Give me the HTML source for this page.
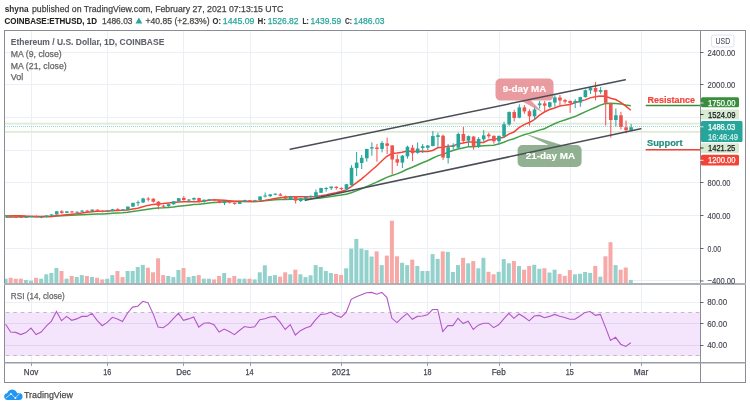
<!DOCTYPE html><html><head><meta charset="utf-8"><style>
*{margin:0;padding:0;box-sizing:border-box}
html,body{width:750px;height:408px;background:#fff;overflow:hidden}
body{position:relative;font-family:"Liberation Sans",sans-serif}
.t{position:absolute;white-space:nowrap;line-height:1}
svg{position:absolute;left:0;top:0}

</style></head><body>
<svg width="750" height="408" viewBox="0 0 750 408">
<g stroke="#eaf0f6" stroke-width="1">
<line x1="5" y1="52.5" x2="700" y2="52.5"/>
<line x1="5" y1="84.5" x2="700" y2="84.5"/>
<line x1="5" y1="117.5" x2="700" y2="117.5"/>
<line x1="5" y1="150.5" x2="700" y2="150.5"/>
<line x1="5" y1="182.5" x2="700" y2="182.5"/>
<line x1="5" y1="215.5" x2="700" y2="215.5"/>
<line x1="5" y1="248.5" x2="700" y2="248.5"/>
<line x1="5" y1="280.5" x2="700" y2="280.5"/>
<line x1="31.5" y1="31" x2="31.5" y2="362"/>
<line x1="107.5" y1="31" x2="107.5" y2="362"/>
<line x1="183.5" y1="31" x2="183.5" y2="362"/>
<line x1="250.5" y1="31" x2="250.5" y2="362"/>
<line x1="341.5" y1="31" x2="341.5" y2="362"/>
<line x1="427.5" y1="31" x2="427.5" y2="362"/>
<line x1="499.5" y1="31" x2="499.5" y2="362"/>
<line x1="570.5" y1="31" x2="570.5" y2="362"/>
<line x1="641.5" y1="31" x2="641.5" y2="362"/>
<line x1="5" y1="302.5" x2="700" y2="302.5"/>
</g>
<rect x="5" y="312.5" width="695" height="43.5" fill="#f4e5fc"/>
<g stroke="#bdbcc6" stroke-width="1" stroke-dasharray="3.5 4" stroke-dashoffset="-0.8"><line x1="5" y1="312.5" x2="700" y2="312.5"/><line x1="5" y1="355.5" x2="700" y2="355.5"/></g>
<line x1="5" y1="323.5" x2="700" y2="323.5" stroke="#e3d3f2" stroke-width="1"/>
<line x1="5" y1="345.5" x2="700" y2="345.5" stroke="#e3d3f2" stroke-width="1"/>
<line x1="5" y1="123.6" x2="700" y2="123.6" stroke="#dcebd5" stroke-width="1.7"/>
<line x1="5" y1="131.9" x2="700" y2="131.9" stroke="#dcebd5" stroke-width="1.7"/>
<line x1="5" y1="126.5" x2="700" y2="126.5" stroke="#26a69a" stroke-width="1" stroke-dasharray="1 1" opacity="0.45"/>
<g>
<rect x="5.00" y="278.70" width="2.58" height="4.80" fill="#93d2cc"/>
<rect x="8.67" y="277.80" width="4.00" height="5.70" fill="#f7a9a7"/>
<rect x="13.75" y="278.70" width="4.00" height="4.80" fill="#f7a9a7"/>
<rect x="18.83" y="278.70" width="4.00" height="4.80" fill="#f7a9a7"/>
<rect x="23.92" y="280.00" width="4.00" height="3.50" fill="#93d2cc"/>
<rect x="29.00" y="280.70" width="4.00" height="2.80" fill="#93d2cc"/>
<rect x="34.08" y="277.80" width="4.00" height="5.70" fill="#f7a9a7"/>
<rect x="39.17" y="278.70" width="4.00" height="4.80" fill="#93d2cc"/>
<rect x="44.25" y="274.30" width="4.00" height="9.20" fill="#93d2cc"/>
<rect x="49.33" y="273.00" width="4.00" height="10.50" fill="#93d2cc"/>
<rect x="54.42" y="268.00" width="4.00" height="15.50" fill="#93d2cc"/>
<rect x="59.50" y="271.00" width="4.00" height="12.50" fill="#f7a9a7"/>
<rect x="64.58" y="278.70" width="4.00" height="4.80" fill="#93d2cc"/>
<rect x="69.67" y="276.00" width="4.00" height="7.50" fill="#f7a9a7"/>
<rect x="74.75" y="277.00" width="4.00" height="6.50" fill="#93d2cc"/>
<rect x="79.83" y="275.10" width="4.00" height="8.40" fill="#93d2cc"/>
<rect x="84.92" y="276.00" width="4.00" height="7.50" fill="#f7a9a7"/>
<rect x="90.00" y="277.00" width="4.00" height="6.50" fill="#93d2cc"/>
<rect x="95.08" y="277.80" width="4.00" height="5.70" fill="#f7a9a7"/>
<rect x="100.17" y="279.40" width="4.00" height="4.10" fill="#f7a9a7"/>
<rect x="105.25" y="278.70" width="4.00" height="4.80" fill="#93d2cc"/>
<rect x="110.33" y="275.10" width="4.00" height="8.40" fill="#93d2cc"/>
<rect x="115.42" y="271.00" width="4.00" height="12.50" fill="#f7a9a7"/>
<rect x="120.50" y="277.10" width="4.00" height="6.40" fill="#f7a9a7"/>
<rect x="125.58" y="271.00" width="4.00" height="12.50" fill="#93d2cc"/>
<rect x="130.67" y="271.00" width="4.00" height="12.50" fill="#93d2cc"/>
<rect x="135.75" y="267.00" width="4.00" height="16.50" fill="#93d2cc"/>
<rect x="140.83" y="264.90" width="4.00" height="18.60" fill="#93d2cc"/>
<rect x="145.92" y="267.70" width="4.00" height="15.80" fill="#f7a9a7"/>
<rect x="151.00" y="272.30" width="4.00" height="11.20" fill="#f7a9a7"/>
<rect x="156.08" y="258.30" width="4.00" height="25.20" fill="#f7a9a7"/>
<rect x="161.17" y="275.10" width="4.00" height="8.40" fill="#f7a9a7"/>
<rect x="166.25" y="276.00" width="4.00" height="7.50" fill="#93d2cc"/>
<rect x="171.33" y="277.10" width="4.00" height="6.40" fill="#93d2cc"/>
<rect x="176.42" y="270.00" width="4.00" height="13.50" fill="#93d2cc"/>
<rect x="181.50" y="268.00" width="4.00" height="15.50" fill="#f7a9a7"/>
<rect x="186.58" y="277.10" width="4.00" height="6.40" fill="#93d2cc"/>
<rect x="191.67" y="276.00" width="4.00" height="7.50" fill="#93d2cc"/>
<rect x="196.75" y="275.10" width="4.00" height="8.40" fill="#f7a9a7"/>
<rect x="201.83" y="278.70" width="4.00" height="4.80" fill="#93d2cc"/>
<rect x="206.92" y="278.70" width="4.00" height="4.80" fill="#93d2cc"/>
<rect x="212.00" y="279.40" width="4.00" height="4.10" fill="#f7a9a7"/>
<rect x="217.08" y="276.00" width="4.00" height="7.50" fill="#f7a9a7"/>
<rect x="222.17" y="273.00" width="4.00" height="10.50" fill="#93d2cc"/>
<rect x="227.25" y="277.90" width="4.00" height="5.60" fill="#f7a9a7"/>
<rect x="232.33" y="276.00" width="4.00" height="7.50" fill="#f7a9a7"/>
<rect x="237.42" y="278.70" width="4.00" height="4.80" fill="#93d2cc"/>
<rect x="242.50" y="278.70" width="4.00" height="4.80" fill="#93d2cc"/>
<rect x="247.58" y="278.70" width="4.00" height="4.80" fill="#f7a9a7"/>
<rect x="252.67" y="279.40" width="4.00" height="4.10" fill="#93d2cc"/>
<rect x="257.75" y="272.30" width="4.00" height="11.20" fill="#93d2cc"/>
<rect x="262.83" y="265.30" width="4.00" height="18.20" fill="#93d2cc"/>
<rect x="267.92" y="276.00" width="4.00" height="7.50" fill="#93d2cc"/>
<rect x="273.00" y="275.10" width="4.00" height="8.40" fill="#93d2cc"/>
<rect x="278.08" y="276.60" width="4.00" height="6.90" fill="#f7a9a7"/>
<rect x="283.17" y="272.30" width="4.00" height="11.20" fill="#f7a9a7"/>
<rect x="288.25" y="274.30" width="4.00" height="9.20" fill="#93d2cc"/>
<rect x="293.33" y="269.70" width="4.00" height="13.80" fill="#f7a9a7"/>
<rect x="298.41" y="274.30" width="4.00" height="9.20" fill="#93d2cc"/>
<rect x="303.50" y="277.10" width="4.00" height="6.40" fill="#93d2cc"/>
<rect x="308.58" y="275.30" width="4.00" height="8.20" fill="#93d2cc"/>
<rect x="313.66" y="265.10" width="4.00" height="18.40" fill="#93d2cc"/>
<rect x="318.75" y="267.00" width="4.00" height="16.50" fill="#93d2cc"/>
<rect x="323.83" y="271.00" width="4.00" height="12.50" fill="#93d2cc"/>
<rect x="328.91" y="273.00" width="4.00" height="10.50" fill="#93d2cc"/>
<rect x="334.00" y="274.00" width="4.00" height="9.50" fill="#f7a9a7"/>
<rect x="339.08" y="274.90" width="4.00" height="8.60" fill="#f7a9a7"/>
<rect x="344.16" y="268.30" width="4.00" height="15.20" fill="#93d2cc"/>
<rect x="349.25" y="248.60" width="4.00" height="34.90" fill="#93d2cc"/>
<rect x="354.33" y="238.90" width="4.00" height="44.60" fill="#93d2cc"/>
<rect x="359.41" y="248.60" width="4.00" height="34.90" fill="#93d2cc"/>
<rect x="364.50" y="250.10" width="4.00" height="33.40" fill="#93d2cc"/>
<rect x="369.58" y="256.50" width="4.00" height="27.00" fill="#93d2cc"/>
<rect x="374.66" y="251.40" width="4.00" height="32.10" fill="#f7a9a7"/>
<rect x="379.75" y="265.10" width="4.00" height="18.40" fill="#93d2cc"/>
<rect x="384.83" y="255.60" width="4.00" height="27.90" fill="#f7a9a7"/>
<rect x="389.91" y="220.70" width="4.00" height="62.80" fill="#f7a9a7"/>
<rect x="395.00" y="256.30" width="4.00" height="27.20" fill="#f7a9a7"/>
<rect x="400.08" y="262.80" width="4.00" height="20.70" fill="#93d2cc"/>
<rect x="405.16" y="265.10" width="4.00" height="18.40" fill="#93d2cc"/>
<rect x="410.25" y="259.60" width="4.00" height="23.90" fill="#f7a9a7"/>
<rect x="415.33" y="266.00" width="4.00" height="17.50" fill="#93d2cc"/>
<rect x="420.41" y="271.00" width="4.00" height="12.50" fill="#93d2cc"/>
<rect x="425.50" y="271.00" width="4.00" height="12.50" fill="#93d2cc"/>
<rect x="430.58" y="254.10" width="4.00" height="29.40" fill="#93d2cc"/>
<rect x="435.66" y="258.90" width="4.00" height="24.60" fill="#93d2cc"/>
<rect x="440.75" y="251.40" width="4.00" height="32.10" fill="#f7a9a7"/>
<rect x="445.83" y="251.90" width="4.00" height="31.60" fill="#93d2cc"/>
<rect x="450.91" y="272.00" width="4.00" height="11.50" fill="#93d2cc"/>
<rect x="456.00" y="265.10" width="4.00" height="18.40" fill="#93d2cc"/>
<rect x="461.08" y="257.80" width="4.00" height="25.70" fill="#f7a9a7"/>
<rect x="466.16" y="263.30" width="4.00" height="20.20" fill="#93d2cc"/>
<rect x="471.25" y="261.10" width="4.00" height="22.40" fill="#f7a9a7"/>
<rect x="476.33" y="268.30" width="4.00" height="15.20" fill="#93d2cc"/>
<rect x="481.41" y="257.80" width="4.00" height="25.70" fill="#93d2cc"/>
<rect x="486.50" y="271.80" width="4.00" height="11.70" fill="#f7a9a7"/>
<rect x="491.58" y="274.30" width="4.00" height="9.20" fill="#f7a9a7"/>
<rect x="496.66" y="271.80" width="4.00" height="11.70" fill="#93d2cc"/>
<rect x="501.75" y="259.10" width="4.00" height="24.40" fill="#93d2cc"/>
<rect x="506.83" y="263.30" width="4.00" height="20.20" fill="#93d2cc"/>
<rect x="511.91" y="261.10" width="4.00" height="22.40" fill="#f7a9a7"/>
<rect x="517.00" y="266.00" width="4.00" height="17.50" fill="#93d2cc"/>
<rect x="522.08" y="269.70" width="4.00" height="13.80" fill="#f7a9a7"/>
<rect x="527.16" y="266.00" width="4.00" height="17.50" fill="#f7a9a7"/>
<rect x="532.25" y="264.80" width="4.00" height="18.70" fill="#93d2cc"/>
<rect x="537.33" y="268.80" width="4.00" height="14.70" fill="#93d2cc"/>
<rect x="542.41" y="268.30" width="4.00" height="15.20" fill="#f7a9a7"/>
<rect x="547.50" y="272.50" width="4.00" height="11.00" fill="#93d2cc"/>
<rect x="552.58" y="269.70" width="4.00" height="13.80" fill="#93d2cc"/>
<rect x="557.66" y="274.00" width="4.00" height="9.50" fill="#f7a9a7"/>
<rect x="562.75" y="275.80" width="4.00" height="7.70" fill="#f7a9a7"/>
<rect x="567.83" y="270.10" width="4.00" height="13.40" fill="#f7a9a7"/>
<rect x="572.91" y="274.30" width="4.00" height="9.20" fill="#93d2cc"/>
<rect x="578.00" y="273.80" width="4.00" height="9.70" fill="#93d2cc"/>
<rect x="583.08" y="272.00" width="4.00" height="11.50" fill="#93d2cc"/>
<rect x="588.16" y="272.90" width="4.00" height="10.60" fill="#93d2cc"/>
<rect x="593.25" y="266.00" width="4.00" height="17.50" fill="#f7a9a7"/>
<rect x="598.33" y="276.70" width="4.00" height="6.80" fill="#93d2cc"/>
<rect x="603.41" y="256.30" width="4.00" height="27.20" fill="#f7a9a7"/>
<rect x="608.50" y="242.20" width="4.00" height="41.30" fill="#f7a9a7"/>
<rect x="613.58" y="265.10" width="4.00" height="18.40" fill="#93d2cc"/>
<rect x="618.66" y="269.70" width="4.00" height="13.80" fill="#f7a9a7"/>
<rect x="623.75" y="267.50" width="4.00" height="16.00" fill="#f7a9a7"/>
<rect x="628.83" y="279.90" width="4.00" height="3.60" fill="#93d2cc"/>
</g>
<polyline points="5.58,217.21 10.67,217.03 15.75,216.89 20.83,216.83 25.92,216.77 31.00,216.69 36.08,216.70 41.17,216.67 46.25,216.59 51.33,216.44 56.42,216.10 61.50,215.84 66.58,215.55 71.67,215.29 76.75,214.98 81.83,214.71 86.92,214.54 92.00,214.28 97.08,214.09 102.17,213.92 107.25,213.66 112.33,213.37 117.42,213.05 122.50,212.69 127.58,212.19 132.67,211.52 137.75,210.86 142.83,209.98 147.92,209.14 153.00,208.48 158.08,208.06 163.17,207.81 168.25,207.40 173.33,206.91 178.42,206.25 183.50,205.69 188.58,205.16 193.67,204.55 198.75,204.17 203.83,203.65 208.92,203.05 214.00,202.54 219.08,202.25 224.17,201.86 229.25,201.54 234.33,201.41 239.42,201.37 244.50,201.28 249.58,201.38 254.67,201.43 259.75,201.19 264.83,200.70 269.92,200.14 275.00,199.65 280.08,199.38 285.17,199.41 290.25,199.23 295.33,199.28 300.41,199.28 305.50,199.06 310.58,198.87 315.66,198.53 320.75,197.96 325.83,197.24 330.91,196.53 336.00,195.83 341.08,195.11 346.16,194.26 351.25,192.72 356.33,190.91 361.41,188.88 366.50,186.62 371.58,184.32 376.66,182.16 381.75,179.74 386.83,177.36 391.91,175.49 397.00,173.89 402.08,171.75 407.16,169.30 412.25,167.22 417.33,164.97 422.41,162.78 427.50,160.76 432.58,158.28 437.66,155.84 442.75,154.38 447.83,152.40 452.91,150.53 458.00,148.92 463.08,147.89 468.16,146.86 473.25,146.75 478.33,146.35 483.41,145.71 488.50,145.39 493.58,145.18 498.66,144.05 503.75,142.22 508.83,140.14 513.91,138.77 519.00,136.58 524.08,134.82 529.16,133.39 534.25,131.68 539.33,130.12 544.41,128.72 549.50,126.09 554.58,123.72 559.66,121.60 564.75,120.06 569.83,118.25 574.91,116.58 580.00,114.22 585.08,111.90 590.16,109.64 595.25,107.52 600.33,105.08 605.41,103.51 610.50,103.31 615.58,103.46 620.66,103.89 625.75,104.97 630.83,105.73" fill="none" stroke="#43a047" stroke-width="1.5"/>
<polyline points="5.58,215.93 10.67,215.85 15.75,215.69 20.83,215.77 25.92,216.02 31.00,216.14 36.08,216.39 41.17,216.56 46.25,216.49 51.33,216.39 56.42,215.79 61.50,215.34 66.58,214.71 71.67,214.19 76.75,213.71 81.83,212.99 86.92,212.36 92.00,211.69 97.08,211.27 102.17,211.33 107.25,211.10 112.33,210.86 117.42,210.61 122.50,210.35 127.58,209.90 132.67,208.99 137.75,208.17 142.83,206.80 147.92,205.40 153.00,204.38 158.08,203.99 163.17,203.57 168.25,202.99 173.33,202.40 178.42,201.89 183.50,201.64 188.58,201.77 193.67,201.64 198.75,201.64 203.83,200.98 208.92,200.23 214.00,199.78 219.08,199.98 224.17,200.36 229.25,200.65 234.33,201.13 239.42,201.58 244.50,201.42 249.58,201.51 254.67,201.61 259.75,201.22 264.83,200.37 269.92,199.57 275.00,198.57 280.08,197.67 285.17,197.31 290.25,196.85 295.33,196.86 300.41,196.63 305.50,196.68 310.58,196.72 315.66,196.47 320.75,195.84 325.83,194.98 330.91,193.63 336.00,192.73 341.08,191.41 346.16,189.87 351.25,186.62 356.33,182.92 361.41,179.10 366.50,174.76 371.58,170.23 376.66,166.04 381.75,161.03 386.83,156.25 391.91,153.50 397.00,152.93 402.08,152.16 407.16,150.94 412.25,151.42 417.33,151.56 422.41,151.26 427.50,151.55 432.58,150.47 437.66,147.77 442.75,147.20 447.83,146.26 452.91,146.06 458.00,143.92 463.08,143.08 468.16,141.95 473.25,142.08 478.33,142.39 483.41,142.41 488.50,140.06 493.58,139.40 498.66,138.37 503.75,137.29 508.83,134.07 513.91,132.06 519.00,127.69 524.08,124.64 529.16,122.53 534.25,119.55 539.33,115.34 544.41,112.00 549.50,109.56 554.58,107.94 559.66,106.00 564.75,105.36 569.83,104.42 574.91,102.71 580.00,101.34 585.08,99.87 590.16,97.89 595.25,96.73 600.33,95.92 605.41,96.17 610.50,98.21 615.58,99.57 620.66,102.45 625.75,106.13 630.83,110.24" fill="none" stroke="#f44336" stroke-width="1.5"/>
<line x1="5.88" y1="214.98" x2="5.88" y2="216.45" stroke="#26a69a" stroke-width="1"/>
<rect x="4.08" y="215.39" width="3.6" height="1.00" fill="#26a69a"/>
<line x1="10.97" y1="215.23" x2="10.97" y2="217.59" stroke="#ef5350" stroke-width="1"/>
<rect x="9.17" y="215.39" width="3.6" height="1.30" fill="#ef5350"/>
<line x1="16.05" y1="216.20" x2="16.05" y2="218.00" stroke="#ef5350" stroke-width="1"/>
<rect x="14.25" y="216.69" width="3.6" height="1.00" fill="#ef5350"/>
<line x1="21.13" y1="216.69" x2="21.13" y2="218.08" stroke="#ef5350" stroke-width="1"/>
<rect x="19.33" y="216.86" width="3.6" height="1.00" fill="#ef5350"/>
<line x1="26.22" y1="216.20" x2="26.22" y2="217.51" stroke="#26a69a" stroke-width="1"/>
<rect x="24.42" y="216.86" width="3.6" height="1.00" fill="#26a69a"/>
<line x1="31.30" y1="216.04" x2="31.30" y2="217.02" stroke="#26a69a" stroke-width="1"/>
<rect x="29.50" y="216.04" width="3.6" height="1.00" fill="#26a69a"/>
<line x1="36.38" y1="215.31" x2="36.38" y2="217.59" stroke="#ef5350" stroke-width="1"/>
<rect x="34.58" y="216.04" width="3.6" height="1.06" fill="#ef5350"/>
<line x1="41.47" y1="216.61" x2="41.47" y2="218.16" stroke="#26a69a" stroke-width="1"/>
<rect x="39.67" y="216.69" width="3.6" height="1.00" fill="#26a69a"/>
<line x1="46.55" y1="215.15" x2="46.55" y2="217.67" stroke="#26a69a" stroke-width="1"/>
<rect x="44.75" y="215.63" width="3.6" height="1.06" fill="#26a69a"/>
<line x1="51.63" y1="214.09" x2="51.63" y2="215.96" stroke="#26a69a" stroke-width="1"/>
<rect x="49.83" y="214.49" width="3.6" height="1.14" fill="#26a69a"/>
<line x1="56.72" y1="211.07" x2="56.72" y2="214.66" stroke="#26a69a" stroke-width="1"/>
<rect x="54.92" y="211.32" width="3.6" height="3.18" fill="#26a69a"/>
<line x1="61.80" y1="210.18" x2="61.80" y2="213.84" stroke="#ef5350" stroke-width="1"/>
<rect x="60.00" y="211.32" width="3.6" height="1.55" fill="#ef5350"/>
<line x1="66.88" y1="211.07" x2="66.88" y2="213.27" stroke="#26a69a" stroke-width="1"/>
<rect x="65.08" y="211.40" width="3.6" height="1.47" fill="#26a69a"/>
<line x1="71.97" y1="210.91" x2="71.97" y2="213.11" stroke="#ef5350" stroke-width="1"/>
<rect x="70.17" y="211.40" width="3.6" height="1.00" fill="#ef5350"/>
<line x1="77.05" y1="211.48" x2="77.05" y2="212.62" stroke="#26a69a" stroke-width="1"/>
<rect x="75.25" y="211.72" width="3.6" height="1.00" fill="#26a69a"/>
<line x1="82.13" y1="209.85" x2="82.13" y2="211.81" stroke="#26a69a" stroke-width="1"/>
<rect x="80.33" y="210.67" width="3.6" height="1.06" fill="#26a69a"/>
<line x1="87.22" y1="209.93" x2="87.22" y2="211.40" stroke="#ef5350" stroke-width="1"/>
<rect x="85.42" y="210.67" width="3.6" height="1.00" fill="#ef5350"/>
<line x1="92.30" y1="209.36" x2="92.30" y2="211.24" stroke="#26a69a" stroke-width="1"/>
<rect x="90.50" y="209.61" width="3.6" height="1.38" fill="#26a69a"/>
<line x1="97.38" y1="209.61" x2="97.38" y2="211.48" stroke="#ef5350" stroke-width="1"/>
<rect x="95.58" y="209.61" width="3.6" height="1.14" fill="#ef5350"/>
<line x1="102.47" y1="210.50" x2="102.47" y2="212.46" stroke="#ef5350" stroke-width="1"/>
<rect x="100.67" y="210.75" width="3.6" height="1.06" fill="#ef5350"/>
<line x1="107.55" y1="210.42" x2="107.55" y2="212.21" stroke="#26a69a" stroke-width="1"/>
<rect x="105.75" y="210.83" width="3.6" height="1.00" fill="#26a69a"/>
<line x1="112.63" y1="208.87" x2="112.63" y2="211.24" stroke="#26a69a" stroke-width="1"/>
<rect x="110.83" y="209.20" width="3.6" height="1.63" fill="#26a69a"/>
<line x1="117.72" y1="208.22" x2="117.72" y2="210.58" stroke="#ef5350" stroke-width="1"/>
<rect x="115.92" y="209.20" width="3.6" height="1.00" fill="#ef5350"/>
<line x1="122.80" y1="209.12" x2="122.80" y2="211.07" stroke="#26a69a" stroke-width="1"/>
<rect x="121.00" y="209.36" width="3.6" height="1.00" fill="#26a69a"/>
<line x1="127.88" y1="206.59" x2="127.88" y2="210.10" stroke="#26a69a" stroke-width="1"/>
<rect x="126.08" y="206.59" width="3.6" height="3.34" fill="#26a69a"/>
<line x1="132.97" y1="202.68" x2="132.97" y2="207.16" stroke="#26a69a" stroke-width="1"/>
<rect x="131.17" y="202.85" width="3.6" height="3.75" fill="#26a69a"/>
<line x1="138.05" y1="200.48" x2="138.05" y2="206.02" stroke="#26a69a" stroke-width="1"/>
<rect x="136.25" y="202.19" width="3.6" height="1.00" fill="#26a69a"/>
<line x1="143.13" y1="197.79" x2="143.13" y2="203.09" stroke="#26a69a" stroke-width="1"/>
<rect x="141.33" y="198.45" width="3.6" height="3.99" fill="#26a69a"/>
<line x1="148.22" y1="196.98" x2="148.22" y2="201.46" stroke="#ef5350" stroke-width="1"/>
<rect x="146.42" y="198.61" width="3.6" height="1.00" fill="#ef5350"/>
<line x1="153.30" y1="198.20" x2="153.30" y2="202.68" stroke="#ef5350" stroke-width="1"/>
<rect x="151.50" y="198.69" width="3.6" height="3.01" fill="#ef5350"/>
<line x1="158.38" y1="201.05" x2="158.38" y2="209.36" stroke="#ef5350" stroke-width="1"/>
<rect x="156.58" y="201.70" width="3.6" height="3.99" fill="#ef5350"/>
<line x1="163.47" y1="204.72" x2="163.47" y2="207.98" stroke="#ef5350" stroke-width="1"/>
<rect x="161.67" y="205.70" width="3.6" height="1.00" fill="#ef5350"/>
<line x1="168.55" y1="203.90" x2="168.55" y2="206.76" stroke="#26a69a" stroke-width="1"/>
<rect x="166.75" y="204.15" width="3.6" height="1.96" fill="#26a69a"/>
<line x1="173.63" y1="201.05" x2="173.63" y2="204.72" stroke="#26a69a" stroke-width="1"/>
<rect x="171.83" y="201.30" width="3.6" height="3.01" fill="#26a69a"/>
<line x1="178.72" y1="197.96" x2="178.72" y2="201.70" stroke="#26a69a" stroke-width="1"/>
<rect x="176.92" y="198.20" width="3.6" height="3.10" fill="#26a69a"/>
<line x1="183.80" y1="196.17" x2="183.80" y2="200.65" stroke="#ef5350" stroke-width="1"/>
<rect x="182.00" y="197.88" width="3.6" height="2.12" fill="#ef5350"/>
<line x1="188.88" y1="199.02" x2="188.88" y2="201.87" stroke="#26a69a" stroke-width="1"/>
<rect x="187.08" y="199.59" width="3.6" height="1.00" fill="#26a69a"/>
<line x1="193.97" y1="197.39" x2="193.97" y2="200.65" stroke="#26a69a" stroke-width="1"/>
<rect x="192.17" y="198.04" width="3.6" height="1.55" fill="#26a69a"/>
<line x1="199.05" y1="197.79" x2="199.05" y2="202.28" stroke="#ef5350" stroke-width="1"/>
<rect x="197.25" y="198.04" width="3.6" height="3.67" fill="#ef5350"/>
<line x1="204.13" y1="199.42" x2="204.13" y2="202.68" stroke="#26a69a" stroke-width="1"/>
<rect x="202.33" y="199.75" width="3.6" height="1.96" fill="#26a69a"/>
<line x1="209.22" y1="198.85" x2="209.22" y2="201.05" stroke="#26a69a" stroke-width="1"/>
<rect x="207.42" y="199.34" width="3.6" height="1.00" fill="#26a69a"/>
<line x1="214.30" y1="199.02" x2="214.30" y2="201.05" stroke="#ef5350" stroke-width="1"/>
<rect x="212.50" y="199.34" width="3.6" height="1.00" fill="#ef5350"/>
<line x1="219.38" y1="199.75" x2="219.38" y2="203.09" stroke="#ef5350" stroke-width="1"/>
<rect x="217.58" y="200.08" width="3.6" height="3.01" fill="#ef5350"/>
<line x1="224.47" y1="201.30" x2="224.47" y2="205.13" stroke="#26a69a" stroke-width="1"/>
<rect x="222.67" y="201.62" width="3.6" height="1.47" fill="#26a69a"/>
<line x1="229.55" y1="201.30" x2="229.55" y2="203.50" stroke="#ef5350" stroke-width="1"/>
<rect x="227.75" y="201.62" width="3.6" height="1.06" fill="#ef5350"/>
<line x1="234.63" y1="202.60" x2="234.63" y2="204.72" stroke="#ef5350" stroke-width="1"/>
<rect x="232.83" y="202.68" width="3.6" height="1.22" fill="#ef5350"/>
<line x1="239.72" y1="201.70" x2="239.72" y2="203.90" stroke="#26a69a" stroke-width="1"/>
<rect x="237.92" y="202.03" width="3.6" height="1.87" fill="#26a69a"/>
<line x1="244.80" y1="199.67" x2="244.80" y2="202.28" stroke="#26a69a" stroke-width="1"/>
<rect x="243.00" y="200.24" width="3.6" height="1.79" fill="#26a69a"/>
<line x1="249.88" y1="200.08" x2="249.88" y2="201.30" stroke="#ef5350" stroke-width="1"/>
<rect x="248.08" y="200.24" width="3.6" height="1.00" fill="#ef5350"/>
<line x1="254.97" y1="199.83" x2="254.97" y2="201.46" stroke="#26a69a" stroke-width="1"/>
<rect x="253.17" y="200.32" width="3.6" height="1.00" fill="#26a69a"/>
<line x1="260.05" y1="196.17" x2="260.05" y2="200.89" stroke="#26a69a" stroke-width="1"/>
<rect x="258.25" y="196.49" width="3.6" height="3.83" fill="#26a69a"/>
<line x1="265.13" y1="192.50" x2="265.13" y2="197.55" stroke="#26a69a" stroke-width="1"/>
<rect x="263.33" y="195.51" width="3.6" height="1.00" fill="#26a69a"/>
<line x1="270.22" y1="194.13" x2="270.22" y2="196.98" stroke="#26a69a" stroke-width="1"/>
<rect x="268.42" y="194.37" width="3.6" height="1.79" fill="#26a69a"/>
<line x1="275.30" y1="193.31" x2="275.30" y2="195.35" stroke="#26a69a" stroke-width="1"/>
<rect x="273.50" y="193.72" width="3.6" height="1.00" fill="#26a69a"/>
<line x1="280.38" y1="193.15" x2="280.38" y2="196.17" stroke="#ef5350" stroke-width="1"/>
<rect x="278.58" y="194.37" width="3.6" height="1.38" fill="#ef5350"/>
<line x1="285.47" y1="195.51" x2="285.47" y2="199.42" stroke="#ef5350" stroke-width="1"/>
<rect x="283.67" y="196.17" width="3.6" height="2.61" fill="#ef5350"/>
<line x1="290.55" y1="195.76" x2="290.55" y2="199.59" stroke="#26a69a" stroke-width="1"/>
<rect x="288.75" y="196.17" width="3.6" height="3.26" fill="#26a69a"/>
<line x1="295.63" y1="196.17" x2="295.63" y2="203.50" stroke="#ef5350" stroke-width="1"/>
<rect x="293.83" y="196.74" width="3.6" height="3.91" fill="#ef5350"/>
<line x1="300.71" y1="197.96" x2="300.71" y2="202.03" stroke="#26a69a" stroke-width="1"/>
<rect x="298.91" y="198.20" width="3.6" height="2.85" fill="#26a69a"/>
<line x1="305.80" y1="196.82" x2="305.80" y2="199.83" stroke="#26a69a" stroke-width="1"/>
<rect x="304.00" y="196.98" width="3.6" height="1.79" fill="#26a69a"/>
<line x1="310.88" y1="195.51" x2="310.88" y2="197.79" stroke="#26a69a" stroke-width="1"/>
<rect x="309.08" y="195.84" width="3.6" height="1.14" fill="#26a69a"/>
<line x1="315.96" y1="189.65" x2="315.96" y2="197.39" stroke="#26a69a" stroke-width="1"/>
<rect x="314.16" y="192.17" width="3.6" height="4.81" fill="#26a69a"/>
<line x1="321.05" y1="187.78" x2="321.05" y2="192.83" stroke="#26a69a" stroke-width="1"/>
<rect x="319.25" y="188.02" width="3.6" height="4.81" fill="#26a69a"/>
<line x1="326.13" y1="187.21" x2="326.13" y2="191.60" stroke="#26a69a" stroke-width="1"/>
<rect x="324.33" y="188.02" width="3.6" height="1.00" fill="#26a69a"/>
<line x1="331.21" y1="186.39" x2="331.21" y2="190.06" stroke="#26a69a" stroke-width="1"/>
<rect x="329.41" y="186.63" width="3.6" height="1.55" fill="#26a69a"/>
<line x1="336.30" y1="186.23" x2="336.30" y2="189.65" stroke="#ef5350" stroke-width="1"/>
<rect x="334.50" y="186.80" width="3.6" height="1.22" fill="#ef5350"/>
<line x1="341.38" y1="187.29" x2="341.38" y2="190.14" stroke="#ef5350" stroke-width="1"/>
<rect x="339.58" y="188.02" width="3.6" height="1.00" fill="#ef5350"/>
<line x1="346.46" y1="183.95" x2="346.46" y2="190.06" stroke="#26a69a" stroke-width="1"/>
<rect x="344.66" y="184.27" width="3.6" height="4.89" fill="#26a69a"/>
<line x1="351.55" y1="165.21" x2="351.55" y2="185.58" stroke="#26a69a" stroke-width="1"/>
<rect x="349.75" y="167.74" width="3.6" height="17.43" fill="#26a69a"/>
<line x1="356.63" y1="152.01" x2="356.63" y2="176.21" stroke="#26a69a" stroke-width="1"/>
<rect x="354.83" y="162.60" width="3.6" height="5.46" fill="#26a69a"/>
<line x1="361.71" y1="154.95" x2="361.71" y2="169.12" stroke="#26a69a" stroke-width="1"/>
<rect x="359.91" y="157.80" width="3.6" height="5.21" fill="#26a69a"/>
<line x1="366.80" y1="148.92" x2="366.80" y2="161.71" stroke="#26a69a" stroke-width="1"/>
<rect x="365.00" y="148.92" width="3.6" height="9.37" fill="#26a69a"/>
<line x1="371.88" y1="142.32" x2="371.88" y2="155.68" stroke="#26a69a" stroke-width="1"/>
<rect x="370.08" y="147.21" width="3.6" height="1.30" fill="#26a69a"/>
<line x1="376.96" y1="144.03" x2="376.96" y2="161.71" stroke="#ef5350" stroke-width="1"/>
<rect x="375.16" y="147.53" width="3.6" height="1.47" fill="#ef5350"/>
<line x1="382.05" y1="141.10" x2="382.05" y2="152.34" stroke="#26a69a" stroke-width="1"/>
<rect x="380.25" y="142.89" width="3.6" height="6.03" fill="#26a69a"/>
<line x1="387.13" y1="137.68" x2="387.13" y2="153.97" stroke="#ef5350" stroke-width="1"/>
<rect x="385.33" y="143.38" width="3.6" height="2.44" fill="#ef5350"/>
<line x1="392.21" y1="145.25" x2="392.21" y2="174.33" stroke="#ef5350" stroke-width="1"/>
<rect x="390.41" y="145.42" width="3.6" height="14.09" fill="#ef5350"/>
<line x1="397.30" y1="154.62" x2="397.30" y2="166.03" stroke="#ef5350" stroke-width="1"/>
<rect x="395.50" y="159.18" width="3.6" height="3.42" fill="#ef5350"/>
<line x1="402.38" y1="155.03" x2="402.38" y2="168.06" stroke="#26a69a" stroke-width="1"/>
<rect x="400.58" y="155.68" width="3.6" height="6.92" fill="#26a69a"/>
<line x1="407.46" y1="145.66" x2="407.46" y2="158.69" stroke="#26a69a" stroke-width="1"/>
<rect x="405.66" y="146.80" width="3.6" height="9.53" fill="#26a69a"/>
<line x1="412.55" y1="144.85" x2="412.55" y2="161.14" stroke="#ef5350" stroke-width="1"/>
<rect x="410.75" y="147.70" width="3.6" height="5.54" fill="#ef5350"/>
<line x1="417.63" y1="142.40" x2="417.63" y2="153.81" stroke="#26a69a" stroke-width="1"/>
<rect x="415.83" y="148.51" width="3.6" height="4.32" fill="#26a69a"/>
<line x1="422.71" y1="144.03" x2="422.71" y2="152.99" stroke="#26a69a" stroke-width="1"/>
<rect x="420.91" y="146.31" width="3.6" height="1.71" fill="#26a69a"/>
<line x1="427.80" y1="145.01" x2="427.80" y2="150.55" stroke="#26a69a" stroke-width="1"/>
<rect x="426.00" y="145.50" width="3.6" height="2.20" fill="#26a69a"/>
<line x1="432.88" y1="131.00" x2="432.88" y2="146.48" stroke="#26a69a" stroke-width="1"/>
<rect x="431.08" y="136.05" width="3.6" height="9.94" fill="#26a69a"/>
<line x1="437.96" y1="132.63" x2="437.96" y2="147.29" stroke="#26a69a" stroke-width="1"/>
<rect x="436.16" y="135.23" width="3.6" height="1.71" fill="#26a69a"/>
<line x1="443.05" y1="134.66" x2="443.05" y2="159.92" stroke="#ef5350" stroke-width="1"/>
<rect x="441.25" y="135.72" width="3.6" height="21.75" fill="#ef5350"/>
<line x1="448.13" y1="144.03" x2="448.13" y2="163.58" stroke="#26a69a" stroke-width="1"/>
<rect x="446.33" y="147.21" width="3.6" height="10.83" fill="#26a69a"/>
<line x1="453.21" y1="143.22" x2="453.21" y2="149.73" stroke="#26a69a" stroke-width="1"/>
<rect x="451.41" y="145.01" width="3.6" height="1.71" fill="#26a69a"/>
<line x1="458.30" y1="132.63" x2="458.30" y2="148.92" stroke="#26a69a" stroke-width="1"/>
<rect x="456.50" y="134.01" width="3.6" height="13.69" fill="#26a69a"/>
<line x1="463.38" y1="126.92" x2="463.38" y2="143.22" stroke="#ef5350" stroke-width="1"/>
<rect x="461.58" y="134.01" width="3.6" height="6.92" fill="#ef5350"/>
<line x1="468.46" y1="135.48" x2="468.46" y2="146.88" stroke="#26a69a" stroke-width="1"/>
<rect x="466.66" y="136.13" width="3.6" height="4.56" fill="#26a69a"/>
<line x1="473.55" y1="135.89" x2="473.55" y2="149.73" stroke="#ef5350" stroke-width="1"/>
<rect x="471.75" y="136.54" width="3.6" height="10.10" fill="#ef5350"/>
<line x1="478.63" y1="137.11" x2="478.63" y2="148.10" stroke="#26a69a" stroke-width="1"/>
<rect x="476.83" y="138.90" width="3.6" height="7.74" fill="#26a69a"/>
<line x1="483.71" y1="130.18" x2="483.71" y2="141.59" stroke="#26a69a" stroke-width="1"/>
<rect x="481.91" y="135.40" width="3.6" height="3.91" fill="#26a69a"/>
<line x1="488.80" y1="132.63" x2="488.80" y2="138.33" stroke="#ef5350" stroke-width="1"/>
<rect x="487.00" y="134.50" width="3.6" height="1.79" fill="#ef5350"/>
<line x1="493.88" y1="135.48" x2="493.88" y2="143.62" stroke="#ef5350" stroke-width="1"/>
<rect x="492.08" y="135.80" width="3.6" height="5.46" fill="#ef5350"/>
<line x1="498.96" y1="135.89" x2="498.96" y2="144.44" stroke="#26a69a" stroke-width="1"/>
<rect x="497.16" y="135.80" width="3.6" height="5.46" fill="#26a69a"/>
<line x1="504.05" y1="121.71" x2="504.05" y2="137.51" stroke="#26a69a" stroke-width="1"/>
<rect x="502.25" y="124.24" width="3.6" height="12.14" fill="#26a69a"/>
<line x1="509.13" y1="111.45" x2="509.13" y2="125.70" stroke="#26a69a" stroke-width="1"/>
<rect x="507.33" y="112.02" width="3.6" height="12.46" fill="#26a69a"/>
<line x1="514.21" y1="109.82" x2="514.21" y2="121.47" stroke="#ef5350" stroke-width="1"/>
<rect x="512.41" y="112.02" width="3.6" height="5.95" fill="#ef5350"/>
<line x1="519.30" y1="104.28" x2="519.30" y2="118.37" stroke="#26a69a" stroke-width="1"/>
<rect x="517.50" y="107.37" width="3.6" height="10.35" fill="#26a69a"/>
<line x1="524.38" y1="105.17" x2="524.38" y2="113.73" stroke="#ef5350" stroke-width="1"/>
<rect x="522.58" y="107.37" width="3.6" height="4.07" fill="#ef5350"/>
<line x1="529.46" y1="109.41" x2="529.46" y2="125.70" stroke="#ef5350" stroke-width="1"/>
<rect x="527.66" y="111.20" width="3.6" height="5.13" fill="#ef5350"/>
<line x1="534.55" y1="106.15" x2="534.55" y2="119.67" stroke="#26a69a" stroke-width="1"/>
<rect x="532.75" y="109.49" width="3.6" height="6.84" fill="#26a69a"/>
<line x1="539.63" y1="100.94" x2="539.63" y2="108.60" stroke="#26a69a" stroke-width="1"/>
<rect x="537.83" y="103.38" width="3.6" height="1.79" fill="#26a69a"/>
<line x1="544.71" y1="100.94" x2="544.71" y2="111.20" stroke="#ef5350" stroke-width="1"/>
<rect x="542.91" y="103.38" width="3.6" height="2.36" fill="#ef5350"/>
<line x1="549.80" y1="101.67" x2="549.80" y2="108.19" stroke="#26a69a" stroke-width="1"/>
<rect x="548.00" y="102.24" width="3.6" height="4.64" fill="#26a69a"/>
<line x1="554.88" y1="95.16" x2="554.88" y2="106.89" stroke="#26a69a" stroke-width="1"/>
<rect x="553.08" y="97.44" width="3.6" height="5.13" fill="#26a69a"/>
<line x1="559.96" y1="94.91" x2="559.96" y2="105.17" stroke="#ef5350" stroke-width="1"/>
<rect x="558.16" y="97.44" width="3.6" height="3.10" fill="#ef5350"/>
<line x1="565.05" y1="98.82" x2="565.05" y2="103.71" stroke="#ef5350" stroke-width="1"/>
<rect x="563.25" y="100.04" width="3.6" height="1.63" fill="#ef5350"/>
<line x1="570.13" y1="100.45" x2="570.13" y2="112.91" stroke="#ef5350" stroke-width="1"/>
<rect x="568.33" y="100.94" width="3.6" height="2.04" fill="#ef5350"/>
<line x1="575.21" y1="99.23" x2="575.21" y2="108.03" stroke="#26a69a" stroke-width="1"/>
<rect x="573.41" y="100.94" width="3.6" height="2.04" fill="#26a69a"/>
<line x1="580.30" y1="96.78" x2="580.30" y2="106.89" stroke="#26a69a" stroke-width="1"/>
<rect x="578.50" y="97.11" width="3.6" height="5.46" fill="#26a69a"/>
<line x1="585.38" y1="89.45" x2="585.38" y2="97.60" stroke="#26a69a" stroke-width="1"/>
<rect x="583.58" y="90.19" width="3.6" height="6.92" fill="#26a69a"/>
<line x1="590.46" y1="86.28" x2="590.46" y2="93.93" stroke="#26a69a" stroke-width="1"/>
<rect x="588.66" y="87.91" width="3.6" height="2.53" fill="#26a69a"/>
<line x1="595.55" y1="81.88" x2="595.55" y2="100.37" stroke="#ef5350" stroke-width="1"/>
<rect x="593.75" y="87.91" width="3.6" height="3.91" fill="#ef5350"/>
<line x1="600.63" y1="87.01" x2="600.63" y2="93.93" stroke="#26a69a" stroke-width="1"/>
<rect x="598.83" y="90.10" width="3.6" height="1.71" fill="#26a69a"/>
<line x1="605.71" y1="89.86" x2="605.71" y2="125.62" stroke="#ef5350" stroke-width="1"/>
<rect x="603.91" y="90.10" width="3.6" height="12.71" fill="#ef5350"/>
<line x1="610.80" y1="102.89" x2="610.80" y2="137.60" stroke="#ef5350" stroke-width="1"/>
<rect x="609.00" y="103.30" width="3.6" height="16.70" fill="#ef5350"/>
<line x1="615.88" y1="108.43" x2="615.88" y2="126.52" stroke="#26a69a" stroke-width="1"/>
<rect x="614.08" y="115.28" width="3.6" height="4.72" fill="#26a69a"/>
<line x1="620.96" y1="111.85" x2="620.96" y2="129.53" stroke="#ef5350" stroke-width="1"/>
<rect x="619.16" y="115.28" width="3.6" height="11.57" fill="#ef5350"/>
<line x1="626.05" y1="120.49" x2="626.05" y2="133.28" stroke="#ef5350" stroke-width="1"/>
<rect x="624.25" y="127.33" width="3.6" height="2.85" fill="#ef5350"/>
<line x1="631.13" y1="123.91" x2="631.13" y2="131.00" stroke="#26a69a" stroke-width="1"/>
<rect x="629.33" y="127.25" width="3.6" height="3.34" fill="#26a69a"/>
<g opacity="0.85">
<path d="M500.5,78.6 h48 a5,5 0 0 1 5,5 v12 a5,5 0 0 1 -5,5 h-17.5 l11.6,12 l-22.1,-12 h-20 a5,5 0 0 1 -5,-5 v-12 a5,5 0 0 1 5,-5z" fill="#e68a8f"/>
<path d="M522.6,145 h54 a5,5 0 0 1 5,5 v12 a5,5 0 0 1 -5,5 h-54 a5,5 0 0 1 -5,-5 v-12 a5,5 0 0 1 5,-5 h25.9 l-24,-11.5 l37.3,11.5z" fill="#7fa37f"/>
</g>
<g stroke="#4a4d55" stroke-width="1.5" stroke-linecap="round">
<line x1="290.2" y1="149.2" x2="625.3" y2="79.8"/>
<line x1="305.3" y1="200.2" x2="640.8" y2="128.8"/>
</g>
<line x1="645.7" y1="105.5" x2="700" y2="105.5" stroke="#388e3c" stroke-width="1.6"/>
<line x1="645.7" y1="149.8" x2="700" y2="149.8" stroke="#f44336" stroke-width="1.6"/>
<polyline points="5.58,324.20 10.67,332.00 15.75,332.40 20.83,334.60 25.92,332.60 31.00,328.10 36.08,334.60 41.17,332.00 46.25,326.20 51.33,321.30 56.42,311.50 61.50,320.70 66.58,316.40 71.67,320.30 76.75,318.90 81.83,316.40 86.92,316.40 92.00,313.40 97.08,320.30 102.17,325.70 107.25,322.40 112.33,317.30 117.42,318.90 122.50,321.60 127.58,313.00 132.67,307.10 137.75,306.20 142.83,301.30 147.92,302.60 153.00,313.40 158.08,327.10 163.17,327.70 168.25,324.20 173.33,318.70 178.42,313.40 183.50,320.30 188.58,318.90 193.67,317.00 198.75,327.10 203.83,323.20 208.92,322.80 214.00,324.80 219.08,332.00 224.17,329.10 229.25,331.60 234.33,334.60 239.42,330.50 244.50,326.50 249.58,327.50 254.67,326.70 259.75,319.70 264.83,318.70 269.92,317.00 275.00,316.40 280.08,322.20 285.17,329.50 290.25,324.60 295.33,335.00 300.41,330.70 305.50,328.10 310.58,326.20 315.66,319.70 320.75,314.40 325.83,314.00 330.91,312.00 336.00,315.50 341.08,317.30 346.16,312.40 351.25,299.30 356.33,296.70 361.41,294.80 366.50,292.80 371.58,292.40 376.66,294.20 381.75,292.40 386.83,297.30 391.91,318.30 397.00,322.60 402.08,317.70 407.16,313.40 412.25,319.30 417.33,316.40 422.41,316.00 427.50,314.80 432.58,309.50 437.66,309.50 442.75,331.60 447.83,325.60 452.91,325.60 458.00,318.30 463.08,323.60 468.16,321.30 473.25,329.50 478.33,325.20 483.41,323.20 488.50,323.20 493.58,327.70 498.66,324.80 503.75,318.90 508.83,313.40 513.91,318.30 519.00,314.00 524.08,317.00 529.16,320.90 534.25,316.00 539.33,315.40 544.41,317.70 549.50,316.40 554.58,314.40 559.66,316.20 564.75,317.50 569.83,319.30 574.91,319.30 580.00,316.00 585.08,312.40 590.16,311.50 595.25,315.40 600.33,314.40 605.41,327.10 610.50,340.50 615.58,337.30 620.66,344.20 625.75,346.40 630.83,342.80" fill="none" stroke="#b257c6" stroke-width="1.1"/>
<rect x="4.5" y="30.5" width="741" height="352" fill="none" stroke="#8a8d95" stroke-width="1"/>
<line x1="700.5" y1="30" x2="700.5" y2="383" stroke="#8a8d95" stroke-width="1"/>
<line x1="4" y1="284" x2="746" y2="284" stroke="#aeb1b8" stroke-width="1.8"/>
<line x1="4" y1="362.8" x2="746" y2="362.8" stroke="#9a9da5" stroke-width="1.4"/>
<g stroke="#60636b" stroke-width="1">
<line x1="700" y1="52.5" x2="703.5" y2="52.5"/>
<line x1="700" y1="84.5" x2="703.5" y2="84.5"/>
<line x1="700" y1="182.5" x2="703.5" y2="182.5"/>
<line x1="700" y1="215.5" x2="703.5" y2="215.5"/>
<line x1="700" y1="248.5" x2="703.5" y2="248.5"/>
<line x1="700" y1="281" x2="703.5" y2="281"/>
<line x1="700" y1="302.5" x2="703.5" y2="302.5"/>
<line x1="700" y1="323.5" x2="703.5" y2="323.5"/>
<line x1="700" y1="345.5" x2="703.5" y2="345.5"/>
</g><g stroke="#9a9da6" stroke-width="1">
<line x1="31.5" y1="363" x2="31.5" y2="366"/>
<line x1="107.5" y1="363" x2="107.5" y2="366"/>
<line x1="183.5" y1="363" x2="183.5" y2="366"/>
<line x1="250.5" y1="363" x2="250.5" y2="366"/>
<line x1="341.5" y1="363" x2="341.5" y2="366"/>
<line x1="427.5" y1="363" x2="427.5" y2="366"/>
<line x1="499.5" y1="363" x2="499.5" y2="366"/>
<line x1="570.5" y1="363" x2="570.5" y2="366"/>
<line x1="641.5" y1="363" x2="641.5" y2="366"/>
</g>
<rect x="701" y="97.3" width="38" height="10" rx="1.5" fill="#388e3c"/>
<rect x="701" y="109.6" width="38" height="9.8" rx="1" fill="#d8eacf"/>
<rect x="701" y="121" width="41.5" height="21" rx="1.5" fill="#26a69a"/>
<rect x="701" y="143.3" width="38" height="9.7" rx="1" fill="#d8eacf"/>
<rect x="701" y="154.7" width="38" height="10.8" rx="1.5" fill="#f44336"/>
<g stroke-width="1"><line x1="700" y1="103" x2="703.5" y2="103" stroke="#cfe6cf"/><line x1="700" y1="114.5" x2="703.5" y2="114.5" stroke="#333"/><line x1="700" y1="126.8" x2="703.5" y2="126.8" stroke="#d0f0ec"/><line x1="700" y1="148" x2="703.5" y2="148" stroke="#333"/><line x1="700" y1="160.3" x2="703.5" y2="160.3" stroke="#fde0de"/></g>
<rect x="711.5" y="35" width="22.5" height="12" rx="2" fill="#fff" stroke="#e0e3eb" stroke-width="1"/>
<g fill="#2196f3"><circle cx="7.6" cy="396.6" r="3.4"/><circle cx="12.2" cy="394.8" r="5.2"/><circle cx="19" cy="396.6" r="3.5"/><rect x="7.6" y="396" width="11.4" height="4"/></g><polyline points="5.6,398.2 11,393.9 15.4,398 19.9,393.2" fill="none" stroke="#cfe8fc" stroke-width="0.8"/><circle cx="11" cy="393.9" r="0.9" fill="#fff"/><circle cx="15.4" cy="398" r="0.9" fill="#fff"/>
<g font-family="Liberation Sans, sans-serif" style="will-change:transform">
<text x="4.70" y="11.80" font-size="9.5" fill="#333" stroke="#333" stroke-width="0.05" font-weight="bold" textLength="23.92" lengthAdjust="spacingAndGlyphs">shyna</text>
<text x="32.00" y="11.80" font-size="9.5" fill="#444" stroke="#444" stroke-width="0.25" textLength="251.28" lengthAdjust="spacingAndGlyphs">published on TradingView.com, February 27, 2021 07:13:15 UTC</text>
<text x="4.50" y="23.70" font-size="9.5" fill="#222" stroke="#222" stroke-width="0.1" font-weight="bold" textLength="92.42" lengthAdjust="spacingAndGlyphs">COINBASE:ETHUSD, 1D</text>
<text x="102.10" y="23.70" font-size="9.5" fill="#444" stroke="#444" stroke-width="0.25" textLength="30.40" lengthAdjust="spacingAndGlyphs">1486.03</text>
<text x="145.50" y="23.70" font-size="9.5" fill="#444" stroke="#444" stroke-width="0.25" textLength="64.10" lengthAdjust="spacingAndGlyphs">+40.85 (+2.83%)</text>
<text x="212.60" y="23.70" font-size="9.5" fill="#333" stroke="#333" stroke-width="0.1" font-weight="bold" textLength="8.51" lengthAdjust="spacingAndGlyphs">O:</text>
<text x="222.80" y="23.70" font-size="9.5" fill="#26a69a" stroke="#26a69a" stroke-width="0.25" textLength="31.60" lengthAdjust="spacingAndGlyphs">1445.09</text>
<text x="257.60" y="23.70" font-size="9.5" fill="#333" stroke="#333" stroke-width="0.1" font-weight="bold" textLength="8.40" lengthAdjust="spacingAndGlyphs">H:</text>
<text x="267.70" y="23.70" font-size="9.5" fill="#26a69a" stroke="#26a69a" stroke-width="0.25" textLength="30.80" lengthAdjust="spacingAndGlyphs">1526.82</text>
<text x="302.40" y="23.70" font-size="9.5" fill="#333" stroke="#333" stroke-width="0.1" font-weight="bold" textLength="6.49" lengthAdjust="spacingAndGlyphs">L:</text>
<text x="310.60" y="23.70" font-size="9.5" fill="#26a69a" stroke="#26a69a" stroke-width="0.25" textLength="30.50" lengthAdjust="spacingAndGlyphs">1439.59</text>
<text x="344.90" y="23.70" font-size="9.5" fill="#333" stroke="#333" stroke-width="0.1" font-weight="bold" textLength="7.00" lengthAdjust="spacingAndGlyphs">C:</text>
<text x="353.60" y="23.70" font-size="9.5" fill="#26a69a" stroke="#26a69a" stroke-width="0.25" textLength="30.80" lengthAdjust="spacingAndGlyphs">1486.03</text>
<path d="M135.5,23.5 L138.9,17.5 L142.3,23.5z" fill="#26a69a"/>
<text x="10.80" y="45.20" font-size="9" fill="#5d606b" stroke="#5d606b" stroke-width="0.05" font-weight="bold" textLength="153.50" lengthAdjust="spacingAndGlyphs">Ethereum / U.S. Dollar, 1D, COINBASE</text>
<text x="10.80" y="57.20" font-size="9" fill="#666" stroke="#666" stroke-width="0.25" textLength="50.90" lengthAdjust="spacingAndGlyphs">MA (9, close)</text>
<text x="10.80" y="69.10" font-size="9" fill="#666" stroke="#666" stroke-width="0.25" textLength="55.91" lengthAdjust="spacingAndGlyphs">MA (21, close)</text>
<text x="10.80" y="80.30" font-size="9" fill="#666" stroke="#666" stroke-width="0.25" textLength="12.50" lengthAdjust="spacingAndGlyphs">Vol</text>
<text x="10.80" y="299.00" font-size="9" fill="#666" stroke="#666" stroke-width="0.25" textLength="53.99" lengthAdjust="spacingAndGlyphs">RSI (14, close)</text>
<text x="502.80" y="91.70" font-size="9.5" fill="#fff" stroke="#fff" stroke-width="0.15" font-weight="bold" textLength="43.50" lengthAdjust="spacingAndGlyphs">9-day MA</text>
<text x="525.70" y="159.00" font-size="9.5" fill="#fff" stroke="#fff" stroke-width="0.15" font-weight="bold" textLength="49.32" lengthAdjust="spacingAndGlyphs">21-day MA</text>
<text x="647.40" y="102.90" font-size="9.5" fill="#f44336" stroke="#f44336" stroke-width="0.2" font-weight="bold" textLength="47.61" lengthAdjust="spacingAndGlyphs">Resistance</text>
<text x="647.00" y="146.30" font-size="9.5" fill="#218c80" stroke="#218c80" stroke-width="0.2" font-weight="bold" textLength="35.48" lengthAdjust="spacingAndGlyphs">Support</text>
<text x="707.60" y="56.00" font-size="9.5" fill="#434651" stroke="#434651" stroke-width="0.15" textLength="27.70" lengthAdjust="spacingAndGlyphs">2400.00</text>
<text x="707.60" y="87.90" font-size="9.5" fill="#434651" stroke="#434651" stroke-width="0.15" textLength="27.70" lengthAdjust="spacingAndGlyphs">2000.00</text>
<text x="707.60" y="185.80" font-size="9.5" fill="#434651" stroke="#434651" stroke-width="0.15" textLength="22.89" lengthAdjust="spacingAndGlyphs">800.00</text>
<text x="707.60" y="218.80" font-size="9.5" fill="#434651" stroke="#434651" stroke-width="0.15" textLength="22.89" lengthAdjust="spacingAndGlyphs">400.00</text>
<text x="707.60" y="251.70" font-size="9.5" fill="#434651" stroke="#434651" stroke-width="0.15" textLength="13.41" lengthAdjust="spacingAndGlyphs">0.00</text>
<text x="707.60" y="284.10" font-size="9.5" fill="#434651" stroke="#434651" stroke-width="0.15" textLength="27.68" lengthAdjust="spacingAndGlyphs">−400.00</text>
<text x="707.20" y="305.10" font-size="9.5" fill="#434651" stroke="#434651" stroke-width="0.15" textLength="19.88" lengthAdjust="spacingAndGlyphs">80.00</text>
<text x="707.20" y="326.60" font-size="9.5" fill="#434651" stroke="#434651" stroke-width="0.15" textLength="19.88" lengthAdjust="spacingAndGlyphs">60.00</text>
<text x="707.20" y="348.40" font-size="9.5" fill="#434651" stroke="#434651" stroke-width="0.15" textLength="19.88" lengthAdjust="spacingAndGlyphs">40.00</text>
<text x="715.60" y="44.00" font-size="9" fill="#50535e" stroke="#50535e" stroke-width="0.1" textLength="14.71" lengthAdjust="spacingAndGlyphs">USD</text>
<text x="708.00" y="105.60" font-size="9.5" fill="#fff" stroke="#fff" stroke-width="0.25" textLength="27.50" lengthAdjust="spacingAndGlyphs">1750.00</text>
<text x="708.00" y="117.60" font-size="9.5" fill="#131722" stroke="#131722" stroke-width="0.25" textLength="27.50" lengthAdjust="spacingAndGlyphs">1524.09</text>
<text x="708.00" y="130.00" font-size="9.5" fill="#fff" stroke="#fff" stroke-width="0.25" textLength="27.30" lengthAdjust="spacingAndGlyphs">1486.03</text>
<text x="708.00" y="139.80" font-size="9.5" fill="#d4f0ec" stroke="#d4f0ec" stroke-width="0.25" textLength="29.98" lengthAdjust="spacingAndGlyphs">16:46:49</text>
<text x="708.00" y="151.30" font-size="9.5" fill="#131722" stroke="#131722" stroke-width="0.25" textLength="27.30" lengthAdjust="spacingAndGlyphs">1421.25</text>
<text x="708.00" y="162.70" font-size="9.5" fill="#fff" stroke="#fff" stroke-width="0.25" textLength="27.50" lengthAdjust="spacingAndGlyphs">1200.00</text>
<text x="23.80" y="375.00" font-size="9" fill="#434651" stroke="#434651" stroke-width="0.25" textLength="14.39" lengthAdjust="spacingAndGlyphs">Nov</text>
<text x="103.25" y="375.00" font-size="9" fill="#434651" stroke="#434651" stroke-width="0.25" textLength="8.02" lengthAdjust="spacingAndGlyphs">16</text>
<text x="176.30" y="375.00" font-size="9" fill="#434651" stroke="#434651" stroke-width="0.25" textLength="14.39" lengthAdjust="spacingAndGlyphs">Dec</text>
<text x="245.58" y="375.00" font-size="9" fill="#434651" stroke="#434651" stroke-width="0.25" textLength="8.02" lengthAdjust="spacingAndGlyphs">14</text>
<text x="331.68" y="375.00" font-size="9" fill="#434651" stroke="#434651" stroke-width="0.25" textLength="18.80" lengthAdjust="spacingAndGlyphs">2021</text>
<text x="423.50" y="375.00" font-size="9" fill="#434651" stroke="#434651" stroke-width="0.25" textLength="8.02" lengthAdjust="spacingAndGlyphs">18</text>
<text x="491.66" y="375.00" font-size="9" fill="#434651" stroke="#434651" stroke-width="0.25" textLength="13.99" lengthAdjust="spacingAndGlyphs">Feb</text>
<text x="565.83" y="375.00" font-size="9" fill="#434651" stroke="#434651" stroke-width="0.25" textLength="8.02" lengthAdjust="spacingAndGlyphs">15</text>
<text x="633.80" y="375.00" font-size="9" fill="#434651" stroke="#434651" stroke-width="0.25" textLength="14.42" lengthAdjust="spacingAndGlyphs">Mar</text>
<text x="24.00" y="397.60" font-size="9.5" fill="#4a4a4a" stroke="#4a4a4a" stroke-width="0.25" textLength="48.98" lengthAdjust="spacingAndGlyphs">TradingView</text>
</g>
</svg>
</body></html>
